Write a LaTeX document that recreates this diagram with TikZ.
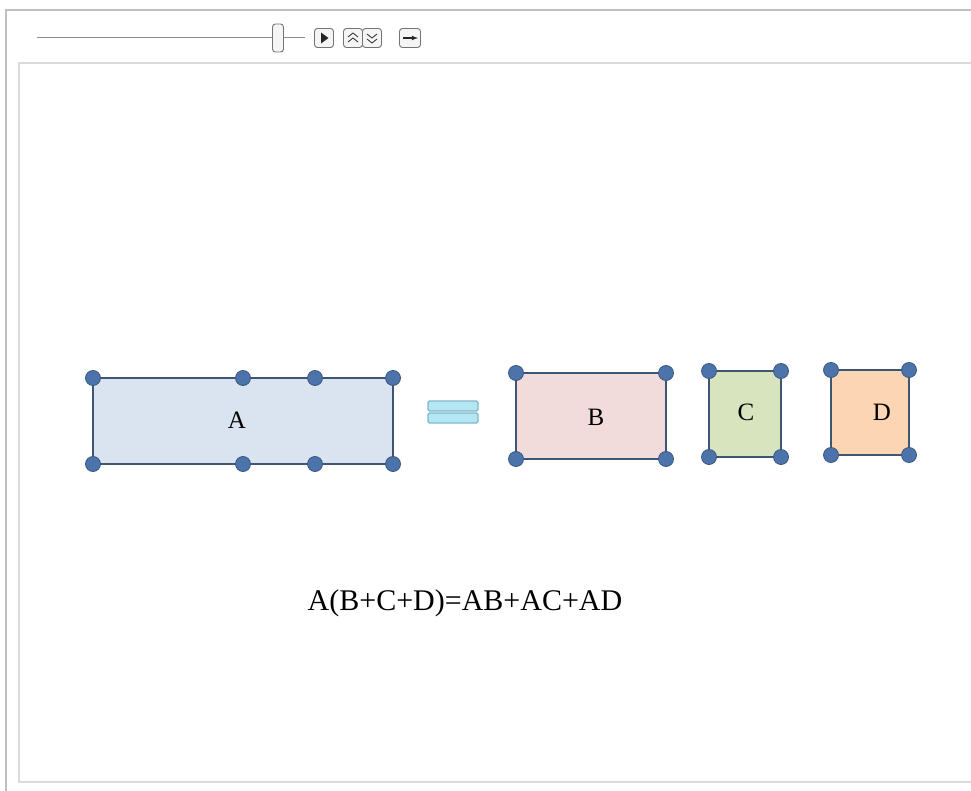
\documentclass[tikz,border=0pt]{standalone}
\usepackage{fontspec}
\setmainfont{Liberation Serif}
\begin{document}
\begin{tikzpicture}[x=1pt,y=-1pt,
  frame/.style={draw=black!25,line width=1.6pt},
  panel/.style={draw=black!14,line width=1.2pt},
  ctrl/.style={draw=black!55,line width=0.9pt,rounded corners=3pt,fill=black!4},
  tile/.style={draw=tileedge,line width=2.8pt},
  handle/.style={circle,fill=handleblue,draw=handleblue!75!black,line width=0.8pt,inner sep=0pt,minimum size=15pt},
  eqbar/.style={draw=eqedge,fill=eqfill,line width=1.3pt,rounded corners=1.5pt},
  lbl/.style={font=\fontsize{25}{30}\selectfont}]
\definecolor{handleblue}{HTML}{4C74AA}
\definecolor{tileedge}{HTML}{3E5573}
\definecolor{tileA}{HTML}{DAE4F1}
\definecolor{tileB}{HTML}{F2DCDB}
\definecolor{tileC}{HTML}{D7E4BD}
\definecolor{tileD}{HTML}{FCD5B4}
\definecolor{eqfill}{HTML}{B4E6F4}
\definecolor{eqedge}{HTML}{7FB8C8}
\useasboundingbox (0,0) rectangle (971,791);
\fill[white] (0,0) rectangle (971,791);

% window frame and content panel
\draw[frame] (6,791) -- (6,10) -- (971,10);
\draw[panel] (19,63) rectangle (975,782);

% animation controls
\coordinate (sl0) at (37,37);
\coordinate (sl1) at (305,37);
\draw[black!45,line width=0.8pt] (sl0) -- (sl1);
\node[ctrl,minimum width=11pt,minimum height=28pt,inner sep=0pt] (thumb) at (278,38) {};
\node[ctrl,minimum size=19pt,inner sep=0pt] (play) at (324,38) {};
\fill[black!85] (321,32.5) -- (328.5,38) -- (321,43.5) -- cycle;
\node[ctrl,minimum size=19pt,inner sep=0pt] (faster) at (353,38) {};
\draw[black!75,line width=0.9pt] (348,37) -- (353,33) -- (358,37) (348,42) -- (353,38) -- (358,42);
\node[ctrl,minimum size=19pt,inner sep=0pt] (slower) at (372,38) {};
\draw[black!75,line width=0.9pt] (367,34) -- (372,38) -- (377,34) (367,39) -- (372,43) -- (377,39);
\node[ctrl,minimum width=21pt,minimum height=19pt,inner sep=0pt] (dir) at (410,38) {};
\draw[black!85,line width=1.1pt,-latex] (403,38) -- (418,38);

% rectangle A with its handles
\draw[tile,fill=tileA] (93,378) rectangle (393,464);
\node[lbl] (A) at (237,420) {A};
\foreach \x/\n in {93/1,243/2,315/3,393/4}{
  \node[handle] (At\n) at (\x,378) {};
  \node[handle] (Ab\n) at (\x,464) {};
}

% equals sign
\draw[eqbar] (428,401) rectangle (478,411);
\draw[eqbar] (428,413) rectangle (478,423);

% rectangles B, C, D
\draw[tile,fill=tileB] (516,373) rectangle (666,459);
\node[lbl] (B) at (596,417) {B};
\draw[tile,fill=tileC] (709,371) rectangle (781,457);
\node[lbl] (C) at (746,412) {C};
\draw[tile,fill=tileD] (831,370) rectangle (909,455);
\node[lbl] (D) at (882,412) {D};
\foreach \x/\y/\w/\h/\n in {516/373/150/86/B,709/371/72/86/C,831/370/78/85/D}{
  \node[handle] (\n1) at (\x,\y) {};
  \node[handle] (\n2) at (\x+\w,\y) {};
  \node[handle] (\n3) at (\x,\y+\h) {};
  \node[handle] (\n4) at (\x+\w,\y+\h) {};
}

% distributive law
\node[font=\fontsize{30}{36}\selectfont] (law) at (465,603) {A(B+C+D)=AB+AC+AD};
\end{tikzpicture}
\end{document}
